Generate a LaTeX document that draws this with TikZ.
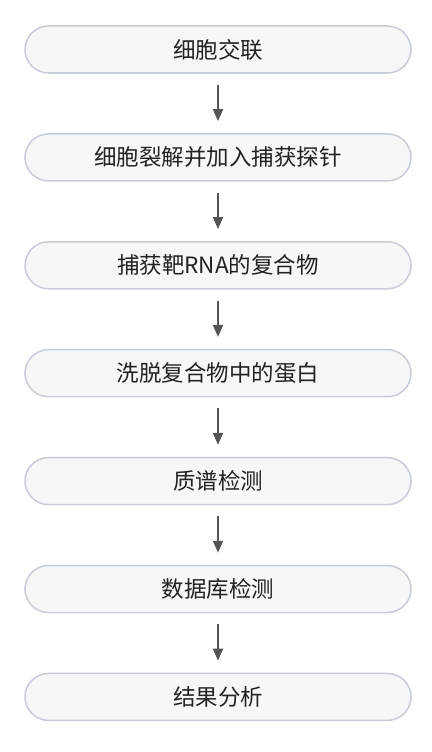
\documentclass[tikz,border=0pt]{standalone}
\usepackage{fontspec}
\setmainfont{Noto Sans CJK SC}
\usetikzlibrary{arrows.meta}
\definecolor{boxfill}{HTML}{F6F8F8}
\definecolor{boxline}{HTML}{C8CCD8}
\definecolor{arrowc}{HTML}{555555}
\definecolor{txt}{HTML}{222222}
\tikzset{
  stepbox/.style={draw=boxline, line width=1.5pt, fill=boxfill, rounded corners=23.5pt,
    minimum width=386pt, minimum height=47pt, inner sep=0pt, text=txt,
    font=\fontsize{22.5pt}{26pt}\selectfont},
  flow/.style={draw=arrowc, line width=2pt, -{Triangle[width=10pt,length=12pt]},
    shorten <=11pt, shorten >=12pt}
}
\begin{document}
\begin{tikzpicture}[x=1pt,y=1pt]
\useasboundingbox (0,0) rectangle (431,-752);
\node[stepbox] (s1) at (218,-49.5) {细胞交联};
\node[stepbox] (s2) at (218,-157.4) {细胞裂解并加入捕获探针};
\node[stepbox] (s3) at (218,-265.3) {捕获靶RNA的复合物};
\node[stepbox] (s4) at (218,-373.2) {洗脱复合物中的蛋白};
\node[stepbox] (s5) at (218,-481.1) {质谱检测};
\node[stepbox] (s6) at (218,-589.0) {数据库检测};
\node[stepbox] (s7) at (218,-696.9) {结果分析};
\draw[flow] (s1) -- (s2);
\draw[flow] (s2) -- (s3);
\draw[flow] (s3) -- (s4);
\draw[flow] (s4) -- (s5);
\draw[flow] (s5) -- (s6);
\draw[flow] (s6) -- (s7);
\end{tikzpicture}
\end{document}
